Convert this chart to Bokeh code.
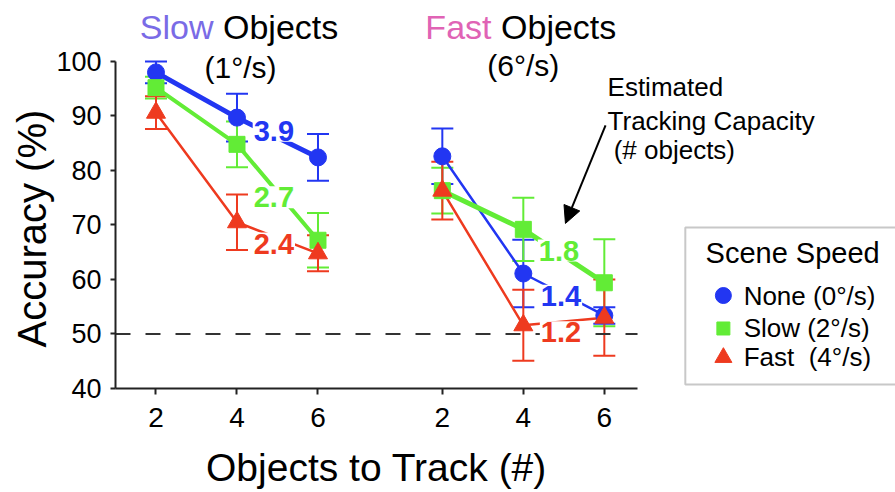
from bokeh.plotting import figure
from bokeh.layouts import column
from bokeh.models import (Range1d, FixedTicker, CustomJSTickFormatter, ColumnDataSource,
                          Whisker, TeeHead, Arrow, NormalHead, Title)
from bokeh.core.properties import value
from bokeh.embed import file_html
from bokeh.resources import INLINE

# ---------------- data ----------------
set_sizes = [2, 4, 6]

# Slow objects (1°/s): accuracy (%) and error bars for each scene speed
slowobj_none = [98.0, 89.7, 82.4]
slowobj_none_err = [2.0, 4.4, 4.3]
slowobj_slow = [95.2, 84.8, 67.2]
slowobj_slow_err = [2.0, 4.2, 5.0]
slowobj_fast = [90.6, 70.5, 64.8]
slowobj_fast_err = [3.0, 5.1, 3.3]

# Fast objects (6°/s)
fastobj_none = [82.6, 61.1, 53.4]
fastobj_none_err = [5.1, 6.2, 1.5]
fastobj_slow = [76.3, 69.2, 59.4]
fastobj_slow_err = [4.2, 5.8, 8.0]
fastobj_fast = [76.3, 51.6, 53.0]
fastobj_fast_err = [5.3, 6.5, 7.0]

# estimated tracking capacity (# objects): none, slow, fast scene speed
cap_slowobj = ["3.9", "2.7", "2.4"]
cap_fastobj = ["1.4", "1.8", "1.2"]

series_names = ["None (0°/s)", "Slow (2°/s)", "Fast \u00a0(4°/s)"]
y_ticks = [40, 50, 60, 70, 80, 90, 100]
chance = 50

# ---------------- layout / style ----------------
FONT = value("Liberation Sans")
PANEL_OFFSET = 7.07
X_LO, X_HI = 1.0, 13.89
COLORS = ["#2236F2", "#62EC36", "#EE3A1F"]
MARKERS = ["circle", "square", "triangle"]
MSIZES = [17, 16, 19]
AXC = "#222222"

p = figure(width=895, height=440, x_range=Range1d(1.0, 20.26), y_range=Range1d(40, 111.19),
           output_backend="svg", toolbar_location=None,
           min_border_left=115, min_border_right=0, min_border_top=0, min_border_bottom=52)
p.grid.visible = False
p.outline_line_color = None

# axes
p.xaxis.bounds = (X_LO, X_HI)
p.yaxis.bounds = (40, 100)
p.xaxis.ticker = FixedTicker(ticks=set_sizes + [s + PANEL_OFFSET for s in set_sizes])
p.xaxis.formatter = CustomJSTickFormatter(args=dict(off=PANEL_OFFSET),
                                          code="return (tick > 7 ? tick - off : tick).toFixed(0);")
p.yaxis.ticker = FixedTicker(ticks=y_ticks)
for ax in (p.xaxis, p.yaxis):
    ax.axis_line_color = AXC
    ax.axis_line_width = 2
    ax.major_tick_line_color = AXC
    ax.major_tick_line_width = 2
    ax.major_tick_in = 0
    ax.minor_tick_line_color = None
    ax.major_label_text_font = "Liberation Sans"
    ax.major_label_text_color = "black"
p.xaxis.major_tick_out = 6
p.yaxis.major_tick_out = 5
p.xaxis.major_label_text_font_size = "28px"
p.yaxis.major_label_text_font_size = "27px"
p.xaxis.major_label_standoff = 13
p.yaxis.major_label_standoff = 9

# y-axis title, aligned to the drawn axis extent
p.add_layout(Title(text="Accuracy (%)", align="left", offset=41, standoff=0,
                   text_font="Liberation Sans", text_font_size="40px",
                   text_font_style="normal", text_color="black"), "left")

# chance line
p.line([X_LO, X_HI], [chance, chance], line_color="#333333", line_width=2, line_dash="15 15")

panels = [
    (0.0, [slowobj_none, slowobj_slow, slowobj_fast],
     [slowobj_none_err, slowobj_slow_err, slowobj_fast_err], [5, 4, 2.5]),
    (PANEL_OFFSET, [fastobj_none, fastobj_slow, fastobj_fast],
     [fastobj_none_err, fastobj_slow_err, fastobj_fast_err], [2.5, 5, 2.5]),
]

for off, accs, errs, widths in panels:
    xs = [s + off for s in set_sizes]
    for acc, err, col, w in zip(accs, errs, COLORS, widths):
        src = ColumnDataSource(dict(x=xs, y=acc,
                                    upper=[a + e for a, e in zip(acc, err)],
                                    lower=[a - e for a, e in zip(acc, err)]))
        p.line("x", "y", source=src, line_color=col, line_width=w)
        p.add_layout(Whisker(source=src, base="x", upper="upper", lower="lower",
                             line_color=col, line_width=2,
                             upper_head=TeeHead(size=22, line_color=col, line_width=2),
                             lower_head=TeeHead(size=22, line_color=col, line_width=2)))
    for acc, col, mk, ms in zip(accs, COLORS, MARKERS, MSIZES):
        p.scatter(xs, acc, marker=mk, size=ms, fill_color=col, line_color=col)

# capacity labels
cap_x = [4.91, 4.91, 4.91, 12.0, 11.95, 12.0]
cap_y = [87.3, 75.1, 66.6, 57.0, 65.3, 50.3]
p.text(x=cap_x, y=cap_y, text=cap_slowobj + cap_fastobj,
       text_color=COLORS + COLORS, text_font=FONT, text_font_size="29px",
       text_font_style="bold", text_align="center", text_baseline="middle",
       background_fill_color="white", padding=1)

# panel titles
p.text(x=[3.42, 10.284], y=[106.24, 106.24], text=["Slow", "Fast"],
       text_color=["#7A6BE6", "#E063B5"], text_font=FONT, text_font_size="34px",
       text_align="right", text_baseline="middle")
p.text(x=[3.654, 10.52], y=[106.24, 106.24], text=["Objects", "Objects"],
       text_color="black", text_font=FONT, text_font_size="34px",
       text_align="left", text_baseline="middle")
p.text(x=[4.086, 11.07], y=[98.9, 99.27], text=["(1°/s)", "(6°/s)"],
       text_color="black", text_font=FONT, text_font_size="30px",
       text_align="center", text_baseline="middle")

# annotation
p.text(x=[13.15, 13.15, 13.30], y=[95.23, 89.17, 83.67],
       text=["Estimated", "Tracking Capacity", "(# objects)"],
       text_color="black", text_font=FONT, text_font_size="26px",
       text_align="left", text_baseline="middle")
p.add_layout(Arrow(end=NormalHead(size=17, fill_color="black", line_color="black"),
                   x_start=13.10, y_start=88.26, x_end=12.11, y_end=70.28,
                   line_color="black", line_width=2))

# legend box
p.quad(left=[15.07], right=[21.5], bottom=[40.73], top=[69.54],
       fill_color="white", line_color="#c8c8c8", line_width=2)
p.text(x=[17.72], y=[64.77], text=["Scene Speed"], text_color="black", text_font=FONT,
       text_font_size="29px", text_align="center", text_baseline="middle")
leg_y = [57.06, 51.01, 45.69]
for ly, col, mk, ms in zip(leg_y, COLORS, MARKERS, [16, 13, 17]):
    p.scatter([16.01], [ly], marker=mk, size=ms, fill_color=col, line_color=col)
p.text(x=[16.51] * 3, y=leg_y, text=series_names, text_color="black", text_font=FONT,
       text_font_size="26px", text_align="left", text_baseline="middle")

# x-axis title strip (frame is aligned with the main chart's frame by the column layout)
p2 = figure(width=895, height=52, x_range=p.x_range, y_range=Range1d(0, 1),
            output_backend="svg", toolbar_location=None,
            min_border_left=0, min_border_right=0, min_border_top=0, min_border_bottom=0)
p2.axis.visible = False
p2.grid.visible = False
p2.outline_line_color = None
p2.text(x=[(X_LO + X_HI) / 2], y=[0.48], text=["Objects to Track (#)"], text_color="black",
        text_font=FONT, text_font_size="39px", text_align="center", text_baseline="middle")

open("out.html", "w").write(file_html(column(p, p2, spacing=0), INLINE))
